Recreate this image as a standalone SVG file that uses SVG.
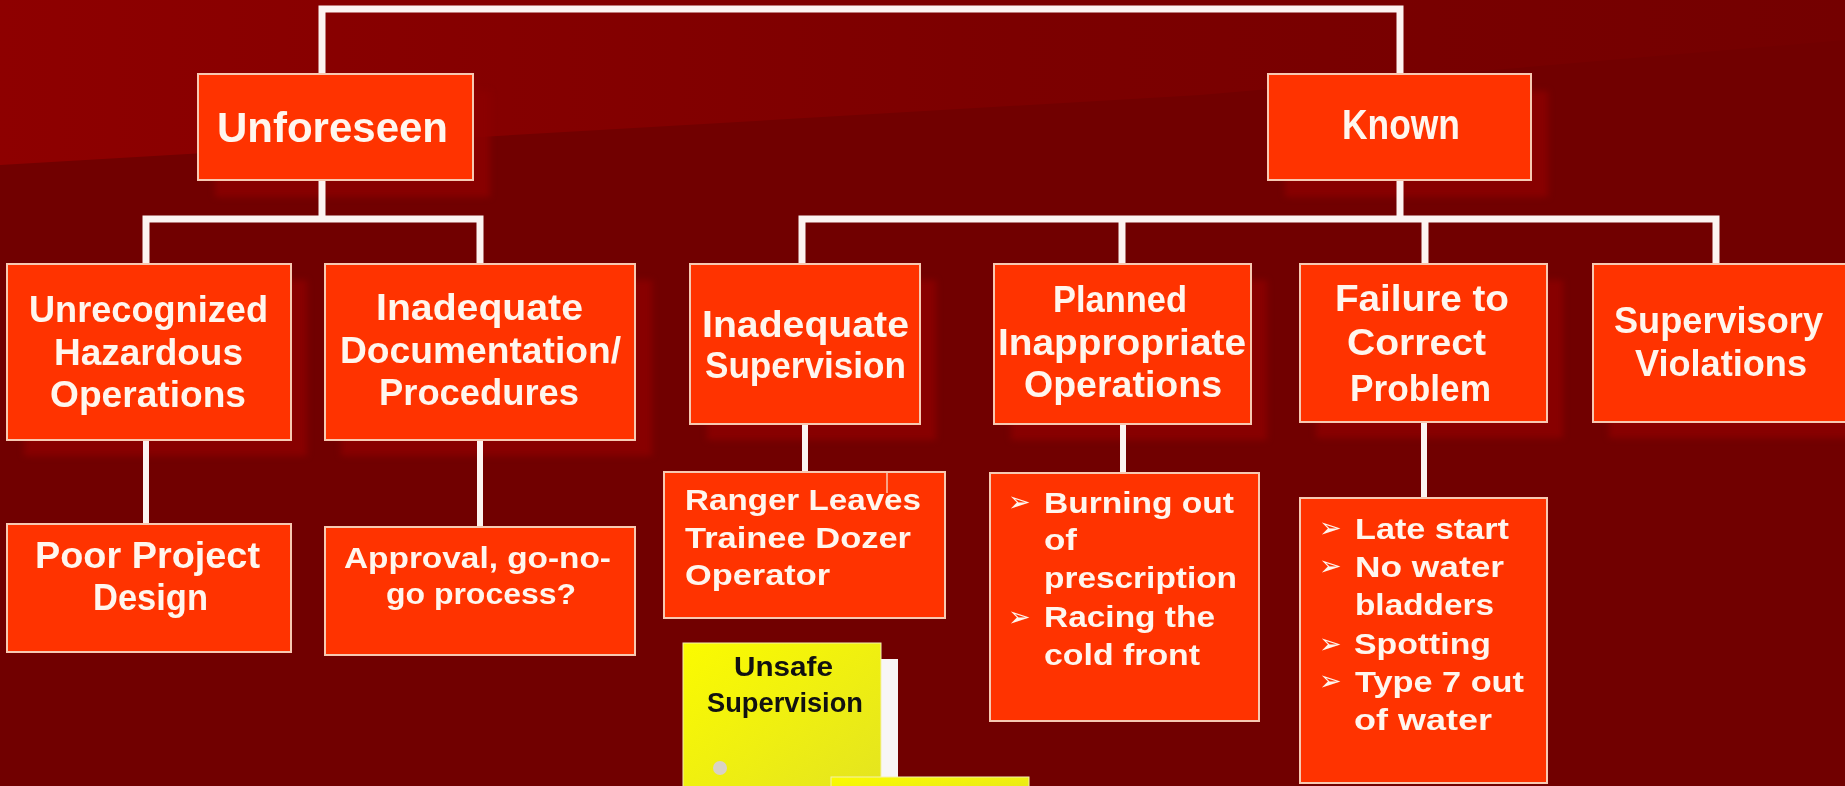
<svg xmlns="http://www.w3.org/2000/svg" width="1845" height="786" viewBox="0 0 1845 786">
<defs>
<linearGradient id="bgTop" x1="0" y1="0" x2="1" y2="0">
<stop offset="0" stop-color="#8e0000"/>
<stop offset="0.55" stop-color="#7c0000"/>
<stop offset="1" stop-color="#740000"/>
</linearGradient>
<linearGradient id="yellow" x1="0" y1="0" x2="1" y2="1">
<stop offset="0" stop-color="#fbfb00"/>
<stop offset="1" stop-color="#e4e420"/>
</linearGradient>
<filter id="soft" x="-10%" y="-10%" width="120%" height="120%">
<feGaussianBlur stdDeviation="3"/>
</filter>
<style>
.box{fill:#ff3300;stroke:#f7c9b2;stroke-width:2}
.shadow{fill:#8c0000;opacity:0.85}
.conn{fill:none;stroke:#fcf4f1;stroke-width:7;stroke-linejoin:miter;stroke-linecap:butt}
.conn2{fill:none;stroke:#fcf4f1;stroke-width:6}
.h1{font-family:"Liberation Sans","Noto Sans",sans-serif;font-weight:bold;font-size:42px;fill:#fff6ee;text-anchor:middle}
.h2{font-family:"Liberation Sans","Noto Sans",sans-serif;font-weight:bold;font-size:36px;fill:#fff6ee;text-anchor:middle}
.b{font-family:"Liberation Sans Narrow","Liberation Sans",sans-serif;font-weight:bold;font-size:30px;fill:#fff6ee}
.bc{text-anchor:middle}
.bul{font-family:"DejaVu Sans",sans-serif;font-size:27px;fill:#fff6ee}
.note{font-family:"Liberation Sans","Noto Sans",sans-serif;font-weight:bold;font-size:27px;fill:#111111;text-anchor:middle}
</style>
</defs>

<rect x="0" y="0" width="1845" height="786" fill="#710000"/>
<polygon points="0,0 1845,0 1845,40 1200,95 0,165" fill="url(#bgTop)"/>

<g id="shadows" filter="url(#soft)">
<rect class="shadow" x="215" y="91" width="275" height="106"/>
<rect class="shadow" x="1285" y="91" width="263" height="106"/>
<rect class="shadow" x="24" y="280" width="283" height="176"/>
<rect class="shadow" x="341" y="280" width="311" height="176"/>
<rect class="shadow" x="707" y="280" width="229" height="160"/>
<rect class="shadow" x="1011" y="280" width="256" height="160"/>
<rect class="shadow" x="1316" y="280" width="247" height="158"/>
<rect class="shadow" x="1609" y="280" width="260" height="158"/>
</g>

<g id="connectors">
<path class="conn" d="M322 74 V9 H1400 V74"/>
<path class="conn" d="M322 180 V219"/>
<path class="conn" d="M146 264 V219 H480 V264"/>
<path class="conn" d="M1400 180 V219"/>
<path class="conn" d="M802 264 V219 H1716 V264"/>
<path class="conn" d="M1122 219 V264"/>
<path class="conn" d="M1425 219 V264"/>
<path class="conn2" d="M146 440 V524"/>
<path class="conn2" d="M480 440 V527"/>
<path class="conn2" d="M805 424 V472"/>
<path class="conn2" d="M1123 424 V473"/>
<path class="conn2" d="M1424 422 V498"/>
</g>

<g id="unforeseen">
<rect class="box" x="198" y="74" width="275" height="106"/>
<text class="h1" x="332.5" y="142" textLength="231" lengthAdjust="spacingAndGlyphs">Unforeseen</text>
</g>

<g id="known">
<rect class="box" x="1268" y="74" width="263" height="106"/>
<text class="h1" x="1401" y="139" textLength="118" lengthAdjust="spacingAndGlyphs">Known</text>
</g>

<g id="unrecognized">
<rect class="box" x="7" y="264" width="284" height="176"/>
<text class="h2" x="148.5" y="322" textLength="239" lengthAdjust="spacingAndGlyphs">Unrecognized</text>
<text class="h2" x="148.5" y="365" textLength="189" lengthAdjust="spacingAndGlyphs">Hazardous</text>
<text class="h2" x="148" y="407" textLength="196" lengthAdjust="spacingAndGlyphs">Operations</text>
</g>

<g id="inadequate-documentation">
<rect class="box" x="325" y="264" width="310" height="176"/>
<text class="h2" x="479.5" y="320" textLength="207" lengthAdjust="spacingAndGlyphs">Inadequate</text>
<text class="h2" x="480.5" y="363" textLength="281" lengthAdjust="spacingAndGlyphs">Documentation/</text>
<text class="h2" x="479" y="405" textLength="200" lengthAdjust="spacingAndGlyphs">Procedures</text>
</g>

<g id="poor-project-design">
<rect class="box" x="7" y="524" width="284" height="128"/>
<text class="h2" x="147.5" y="568" textLength="225" lengthAdjust="spacingAndGlyphs">Poor Project</text>
<text class="h2" x="150.5" y="610" textLength="115" lengthAdjust="spacingAndGlyphs">Design</text>
</g>

<g id="approval">
<rect class="box" x="325" y="527" width="310" height="128"/>
<text class="b bc" x="477.5" y="568" textLength="267" lengthAdjust="spacingAndGlyphs">Approval, go-no-</text>
<text class="b bc" x="481" y="604" textLength="190" lengthAdjust="spacingAndGlyphs">go process?</text>
</g>

<g id="inadequate-supervision">
<rect class="box" x="690" y="264" width="230" height="160"/>
<text class="h2" x="805.5" y="337" textLength="207" lengthAdjust="spacingAndGlyphs">Inadequate</text>
<text class="h2" x="805.5" y="378" textLength="201" lengthAdjust="spacingAndGlyphs">Supervision</text>
</g>

<g id="planned-inappropriate">
<rect class="box" x="994" y="264" width="257" height="160"/>
<text class="h2" x="1120" y="312" textLength="134" lengthAdjust="spacingAndGlyphs">Planned</text>
<text class="h2" x="1122" y="355" textLength="248" lengthAdjust="spacingAndGlyphs">Inappropriate</text>
<text class="h2" x="1123" y="397" textLength="198" lengthAdjust="spacingAndGlyphs">Operations</text>
</g>

<g id="failure-to-correct">
<rect class="box" x="1300" y="264" width="247" height="158"/>
<text class="h2" x="1422" y="311" textLength="174" lengthAdjust="spacingAndGlyphs">Failure to</text>
<text class="h2" x="1416.5" y="355" textLength="139" lengthAdjust="spacingAndGlyphs">Correct</text>
<text class="h2" x="1420.5" y="401" textLength="141" lengthAdjust="spacingAndGlyphs">Problem</text>
</g>

<g id="supervisory-violations">
<rect class="box" x="1593" y="264" width="270" height="158"/>
<text class="h2" x="1718.5" y="333" textLength="209" lengthAdjust="spacingAndGlyphs">Supervisory</text>
<text class="h2" x="1721" y="376" textLength="172" lengthAdjust="spacingAndGlyphs">Violations</text>
</g>

<g id="ranger-leaves">
<rect class="box" x="664" y="472" width="281" height="146"/>
<line x1="887" y1="472" x2="887" y2="493" stroke="#f7c9b2" stroke-width="1.5"/>
<text class="b" x="685" y="510" textLength="236" lengthAdjust="spacingAndGlyphs">Ranger Leaves</text>
<text class="b" x="685" y="548" textLength="226" lengthAdjust="spacingAndGlyphs">Trainee Dozer</text>
<text class="b" x="685" y="585" textLength="145" lengthAdjust="spacingAndGlyphs">Operator</text>
</g>

<g id="burning-out">
<rect class="box" x="990" y="473" width="269" height="248"/>
<text class="bul" x="1008" y="511">➢</text>
<text class="b" x="1044" y="513" textLength="190" lengthAdjust="spacingAndGlyphs">Burning out</text>
<text class="b" x="1044" y="550" textLength="33" lengthAdjust="spacingAndGlyphs">of</text>
<text class="b" x="1044" y="588" textLength="193" lengthAdjust="spacingAndGlyphs">prescription</text>
<text class="bul" x="1008" y="626">➢</text>
<text class="b" x="1044" y="627" textLength="171" lengthAdjust="spacingAndGlyphs">Racing the</text>
<text class="b" x="1044" y="665" textLength="156" lengthAdjust="spacingAndGlyphs">cold front</text>
</g>

<g id="late-start">
<rect class="box" x="1300" y="498" width="247" height="285"/>
<text class="bul" x="1319" y="537">➢</text>
<text class="b" x="1355" y="539" textLength="154" lengthAdjust="spacingAndGlyphs">Late start</text>
<text class="bul" x="1319" y="575">➢</text>
<text class="b" x="1355" y="577" textLength="149" lengthAdjust="spacingAndGlyphs">No water</text>
<text class="b" x="1355" y="615" textLength="139" lengthAdjust="spacingAndGlyphs">bladders</text>
<text class="bul" x="1319" y="653">➢</text>
<text class="b" x="1354" y="654" textLength="137" lengthAdjust="spacingAndGlyphs">Spotting</text>
<text class="bul" x="1319" y="690">➢</text>
<text class="b" x="1355" y="692" textLength="169" lengthAdjust="spacingAndGlyphs">Type 7 out</text>
<text class="b" x="1354" y="730" textLength="138" lengthAdjust="spacingAndGlyphs">of water</text>
</g>

<g id="unsafe-supervision">
<rect x="881" y="659" width="17" height="118" fill="#f8f6f6"/>
<rect x="683" y="643" width="198" height="150" fill="url(#yellow)" stroke="#f4f0b0" stroke-width="1"/>
<circle cx="720" cy="768" r="7" fill="#d9d2c6"/>
<text class="note" x="783.5" y="676" textLength="99" lengthAdjust="spacingAndGlyphs">Unsafe</text>
<text class="note" x="785" y="712" textLength="156" lengthAdjust="spacingAndGlyphs">Supervision</text>
</g>

<g id="note-bottom">
<rect x="831" y="777" width="198" height="20" fill="url(#yellow)" stroke="#f4f0b0" stroke-width="1"/>
</g>
</svg>
